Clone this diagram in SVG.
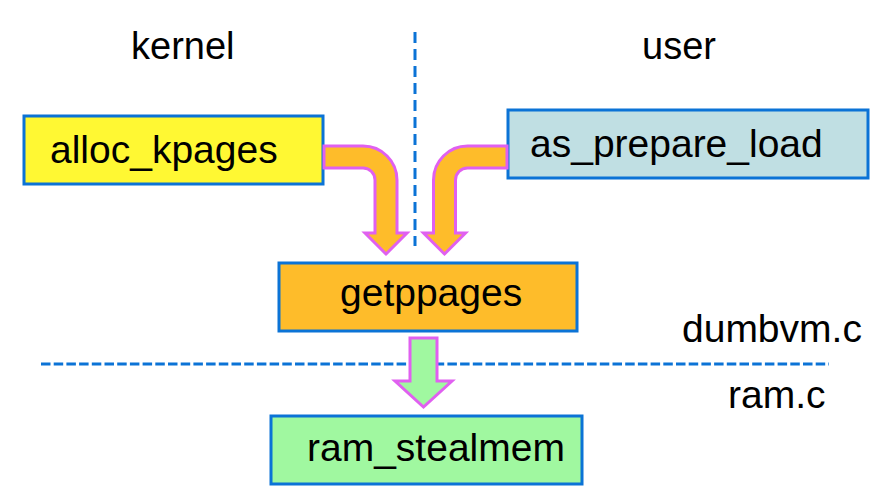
<svg xmlns="http://www.w3.org/2000/svg" width="894" height="496" viewBox="0 0 894 496">
<style>
text{font-family:"Liberation Sans",Arial,sans-serif;fill:#000}
.box{stroke:#0B73D6;stroke-width:3}
.lbl{font-size:38px}
.bt{font-size:39px}
.sep{stroke:#0B73D6;stroke-width:3;fill:none}
.arr{stroke:#E060F0;stroke-width:3;stroke-linejoin:miter}
</style>
<rect width="894" height="496" fill="#fff"/>
<g id="separators">
<line class="sep" x1="415" y1="32" x2="415" y2="246" stroke-dasharray="11 6"/>
<line class="sep" x1="41" y1="364" x2="829" y2="364" stroke-dasharray="9.5 3.2"/>
</g>
<g id="labels">
<text class="lbl" x="131" y="59">kernel</text>
<text class="lbl" x="642" y="59">user</text>
<text class="bt" x="682" y="342">dumbvm.c</text>
<text class="bt" x="728" y="408">ram.c</text>
</g>
<g id="alloc_kpages">
<rect class="box" x="24" y="116" width="299" height="68" fill="#FFF833"/>
<text class="bt" x="50" y="163">alloc_kpages</text>
</g>
<g id="as_prepare_load">
<rect class="box" x="508" y="110" width="360" height="68" fill="#C0DFE3"/>
<text class="bt" x="530" y="157">as_prepare_load</text>
</g>
<g id="getppages">
<rect class="box" x="279" y="263" width="298" height="68" fill="#FEBC2A"/>
<text class="bt" x="340" y="306">getppages</text>
</g>
<g id="ram_stealmem">
<rect class="box" x="271" y="416" width="311" height="68" fill="#A0F8A0"/>
<text class="bt" x="307" y="461">ram_stealmem</text>
</g>
<g id="connectors">
<path class="arr" fill="#FEBC2A" d="M324,146 H363 A34,34 0 0 1 397,180 V233 H407 L386,254 L365,233 H375 V180 A12,12 0 0 0 363,168 H324 Z"/>
<path class="arr" fill="#FEBC2A" d="M507,146 H467.5 A34,34 0 0 0 433.5,180 V233 H423.5 L444.5,254 L465.5,233 H455.5 V180 A12,12 0 0 1 467.5,168 H507 Z"/>
<path class="arr" fill="#A0F8A0" d="M410,338 H437 V381 H452 L423.5,407 L395,381 H410 Z"/>
</g>
</svg>
